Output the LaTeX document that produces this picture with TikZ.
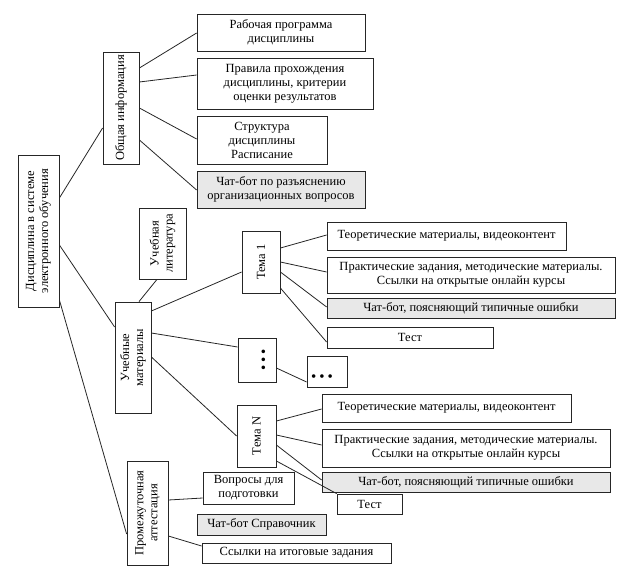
\documentclass[tikz,border=0pt]{standalone}
\usepackage{fontspec}
\setmainfont{Liberation Serif}
\usetikzlibrary{calc}
\newcommand\mybox[7]{\node[#2, minimum width={#5-#3}, minimum height={#6-#4}] (#1) at ({(#3+#5)/2},{(#4+#6)/2}) {#7};}
\newcommand\myvbox[6]{\node[box, minimum width={#4-#2}, minimum height={#5-#3}] (#1) at ({(#2+#4)/2},{(#3+#5)/2}) {};
  \node[txt, rotate=90] (#1t) at (#1) {#6};}
\begin{document}
\begin{tikzpicture}[x=1pt,y=-1pt,
  box/.style={draw=black!85, line width=0.8pt, inner sep=0pt, align=center, font=\fontsize{12.5}{14}\selectfont},
  chat/.style={box, fill=gray!18},
  txt/.style={inner sep=0pt, align=center, font=\fontsize{12.5}{14}\selectfont},
  dots/.style={inner sep=0pt, font=\fontsize{15}{15}\selectfont},
  link/.style={draw=black!85, line width=0.8pt}]
\useasboundingbox (0,0) rectangle (628,567);
% vertical boxes
\myvbox{root}{18}{155}{59}{307}{Дисциплина в системе\\электронного обучения}
\myvbox{gen}{103}{52}{139}{164}{Общая информация}
\myvbox{lit}{139}{208}{186}{279}{Учебная\\литература}
\myvbox{mat}{115}{302}{151}{413}{Учебные\\материалы}
\myvbox{tone}{242}{231}{280}{293}{Тема 1}
\myvbox{tN}{237}{405}{276}{467}{Тема N}
\myvbox{att}{127}{461}{168}{565}{Промежуточная\\аттестация}
\mybox{vd}{box}{238}{338}{276}{382}{}
\node[dots, rotate=90] (vdt) at (265,360) {•\hspace{3pt}•\hspace{3pt}•};
\mybox{hd}{box}{307}{356}{347}{387}{}
\node[dots] (hdt) at (322,378) {•\hspace{3pt}•\hspace{3pt}•};
% general info
\mybox{ga}{box}{197}{14}{365}{51}{Рабочая программа\\дисциплины}
\mybox{gb}{box}{197}{58}{373}{109}{Правила прохождения\\дисциплины, критерии\\оценки результатов}
\mybox{gc}{box}{197}{116}{327}{164}{Структура\\дисциплины\\Расписание}
\mybox{gd}{chat}{197}{171}{365}{208}{Чат-бот по разъяснению\\организационных вопросов}
% topic 1
\mybox{aa}{box}{327}{222}{566}{250}{Теоретические материалы, видеоконтент}
\mybox{ab}{box}{327}{257}{615}{293}{Практические задания, методические материалы.\\Ссылки на открытые онлайн курсы}
\mybox{ac}{chat}{327}{298}{615}{318}{Чат-бот, поясняющий типичные ошибки}
\mybox{ad}{box}{327}{327}{493}{348}{Тест}
% topic N
\mybox{ba}{box}{322}{394}{571}{422}{Теоретические материалы, видеоконтент}
\mybox{bb}{box}{322}{429}{610}{467}{Практические задания, методические материалы.\\Ссылки на открытые онлайн курсы}
\mybox{bc}{chat}{322}{472}{610}{492}{Чат-бот, поясняющий типичные ошибки}
\mybox{bd}{box}{337}{494}{402}{514}{Тест}
% attestation
\mybox{ca}{box}{203}{472}{294}{504}{Вопросы для\\подготовки}
\mybox{cb}{chat}{197}{514}{326}{535}{Чат-бот Справочник}
\mybox{cc}{box}{202}{543}{391}{563}{Ссылки на итоговые задания}
% connectors
\draw[link] (root.east |- 0,198) -- (gen.west |- 0,128);
\draw[link] (root.east |- 0,245) -- (mat.west |- 0,327);
\draw[link] (root.east |- 0,300) -- (att.west |- 0,534);
\draw[link] (gen.east |- 0,68) -- (ga.west |- 0,33);
\draw[link] (gen.east |- 0,82) -- (gb.west |- 0,75);
\draw[link] (gen.east |- 0,108) -- (gc.west |- 0,139);
\draw[link] (gen.east |- 0,140) -- (gd.west |- 0,190);
\draw[link] (mat.north -| 139,0) -- (lit.south -| 157,0);
\draw[link] (mat.east |- 0,311) -- (tone.west |- 0,272);
\draw[link] (mat.east |- 0,333) -- (vd.west |- 0,347);
\draw[link] (mat.east |- 0,357) -- (tN.west |- 0,436);
\draw[link] (vd.east |- 0,368) -- (hd.west |- 0,382);
\draw[link] (tone.east |- 0,248) -- (aa.west |- 0,235);
\draw[link] (tone.east |- 0,262) -- (ab.west |- 0,272);
\draw[link] (tone.east |- 0,272) -- (ac.west |- 0,307);
\draw[link] (tone.east |- 0,288) -- (ad.west |- 0,342);
\draw[link] (tN.east |- 0,421) -- (ba.west |- 0,409);
\draw[link] (tN.east |- 0,435) -- (bb.west |- 0,445);
\draw[link] (tN.east |- 0,445) -- (bc.west |- 0,480);
\draw[link] (tN.east |- 0,461) -- (bd.north west);
\draw[link] (att.east |- 0,500) -- (ca.west |- 0,498);
\draw[link] (att.east |- 0,536) -- (cc.west |- 0,546);
\end{tikzpicture}
\end{document}
